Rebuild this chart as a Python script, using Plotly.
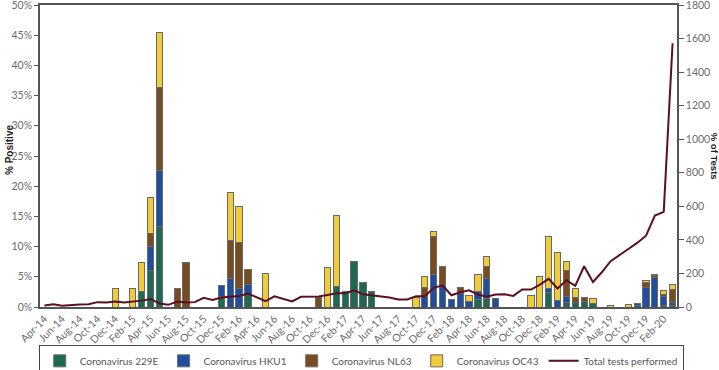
import plotly.graph_objects as go

months = ["Apr-14","May-14","Jun-14","Jul-14","Aug-14","Sep-14","Oct-14","Nov-14","Dec-14",
          "Jan-15","Feb-15","Mar-15","Apr-15","May-15","Jun-15","Jul-15","Aug-15","Sep-15","Oct-15","Nov-15","Dec-15",
          "Jan-16","Feb-16","Mar-16","Apr-16","May-16","Jun-16","Jul-16","Aug-16","Sep-16","Oct-16","Nov-16","Dec-16",
          "Jan-17","Feb-17","Mar-17","Apr-17","May-17","Jun-17","Jul-17","Aug-17","Sep-17","Oct-17","Nov-17","Dec-17",
          "Jan-18","Feb-18","Mar-18","Apr-18","May-18","Jun-18","Jul-18","Aug-18","Sep-18","Oct-18","Nov-18","Dec-18",
          "Jan-19","Feb-19","Mar-19","Apr-19","May-19","Jun-19","Jul-19","Aug-19","Sep-19","Oct-19","Nov-19","Dec-19",
          "Jan-20","Feb-20","Mar-20"]

# % positive per virus (index aligned with months)
cov_229e = [0,0,0,0,0,0,0,0,0, 0,0,2.5,6.1,13.4,0,0,0,0,0,0,1.8,
            0,0,2.0,0,0,0,0,0,0,0,0,0, 3.4,2.5,7.6,4.0,2.6,0,0,0,0,0,0,0,
            0,0,0,0,1.2,1.4,0,0,0,0,0,0, 2.35,0,0.7,0.7,0.85,0.6,0,0,0,0,0.3,0,
            0,0.25,0.25]
cov_hku1 = [0,0,0,0,0,0,0,0,0, 0,0,0,4.0,9.2,0,0,0,0,0,0,1.8,
            4.7,3.0,1.7,0,0,0,0,0,0,0,0,0, 0,0,0,0,0,0,0,0,0,0,1.8,5.4,
            3.6,1.25,2.3,0.95,1.4,3.4,1.35,0,0,0,0,0, 0.65,1.0,1.1,0,0,0,0,0,0,0,0.35,3.3,
            4.95,1.45,0.55]
cov_nl63 = [0,0,0,0,0,0,0,0,0, 0,0,0,2.0,13.7,0,3.1,7.3,0,0,0,0,
            6.3,7.7,2.45,0,0,0,0,0,0,0,1.65,0, 0,0,0,0,0,0,0,0,0,0,1.5,6.2,
            3.05,0,0.9,0,0,1.85,0,0,0,0,0,0, 0,0,4.3,0.8,0.65,0,0,0,0,0,0,0.7,
            0.25,0.37,2.1]
cov_oc43 = [0,0,0,0,0,0,0,0,3.1, 0,3.1,4.9,6.1,9.1,0,0,0,0,0,0,0,
            8.0,5.9,0,0,5.5,0,0,0,0,0,0,6.6, 11.8,0,0,0,0,0,0,0,0,1.65,1.7,0.9,
            0,0,0,1.0,2.8,1.65,0,0,0,0,1.9,5.1, 8.7,7.95,1.4,1.56,0,0.75,0,0.3,0,0.45,0,0.45,
            0.25,0.63,0.8]
total_tests = [9,17,7,12,15,17,29,27,33, 27,31,38,48,21,13,33,27,29,55,42,57,
               62,65,80,55,35,64,49,33,61,63,63,72, 82,82,100,76,70,61,57,45,45,64,64,114,
               129,70,88,99,74,61,74,76,66,104,104,134, 168,110,159,126,243,149,207,273,312,346,382,425,
               545,567,1572]

tick_labels = months[0::2]

series = [
    ("Coronavirus 229E", cov_229e, "#1d6a52"),
    ("Coronavirus HKU1", cov_hku1, "#1f4ea1"),
    ("Coronavirus NL63", cov_nl63, "#7a4b1f"),
    ("Coronavirus OC43", cov_oc43, "#f0cb3a"),
]

fig = go.Figure()
for name, vals, col in series:
    fig.add_trace(go.Bar(x=months, y=vals, name=name, marker=dict(color=col, line=dict(color="#6a6a6a", width=1)),
                         yaxis="y"))
fig.add_trace(go.Scatter(x=months, y=total_tests, name="Total tests performed", mode="lines",
                         line=dict(color="#5b0f1f", width=2), yaxis="y2"))

tick_font = dict(family="Lato, 'Open Sans', sans-serif", size=10.5, color="#6b6b6b")
fig.update_layout(
    width=719, height=370,
    margin=dict(l=40, r=42, t=5, b=62.5, autoexpand=False),
    paper_bgcolor="white", plot_bgcolor="white",
    barmode="stack", bargap=0.3,
    showlegend=True,
    legend=dict(orientation="h", x=-0.002, xanchor="left", y=-0.127, yanchor="top",
                traceorder="normal",
                bordercolor="#444", borderwidth=1,
                font=dict(family="Lato, sans-serif", size=10, color="#555"),
                itemwidth=30, tracegroupgap=0),
    xaxis=dict(type="category", categoryorder="array", categoryarray=months,
               tickmode="array", tickvals=tick_labels, ticktext=tick_labels,
               tickangle=-45, tickfont=tick_font, showline=True, linecolor="#555", linewidth=1.5,
               mirror=True, ticks="", showgrid=False, range=[-0.5, len(months) - 0.5]),
    yaxis=dict(range=[0, 50], dtick=5, ticksuffix="%", tickfont=tick_font, showline=True,
               linecolor="#555", linewidth=1.5, ticks="outside", ticklen=4, tickcolor="#555",
               showgrid=False, zeroline=False, ticklabeloverflow="allow"),
    yaxis2=dict(range=[0, 1800], dtick=200, overlaying="y", side="right", tickfont=tick_font,
                showline=True, linecolor="#555", linewidth=1.5, ticks="outside", ticklen=5,
                tickcolor="#555", showgrid=False, zeroline=False, ticklabeloverflow="allow"),
    annotations=[
        dict(text="<b>% Positive</b>", xref="paper", yref="paper", x=-0.047, y=0.52, textangle=-90,
             xanchor="center", yanchor="middle",
             showarrow=False, font=dict(family="Liberation Sans, Arial", size=10, color="#222")),
        dict(text="<b>% of Tests</b>", xref="paper", yref="paper", x=1.06, y=0.5, textangle=90,
             xanchor="center", yanchor="middle",
             showarrow=False, font=dict(family="Liberation Sans, Arial", size=9.5, color="#222")),
    ],
)

fig.write_html("out.html", config={"displayModeBar": False},
               post_script="document.body.style.margin='0';")
